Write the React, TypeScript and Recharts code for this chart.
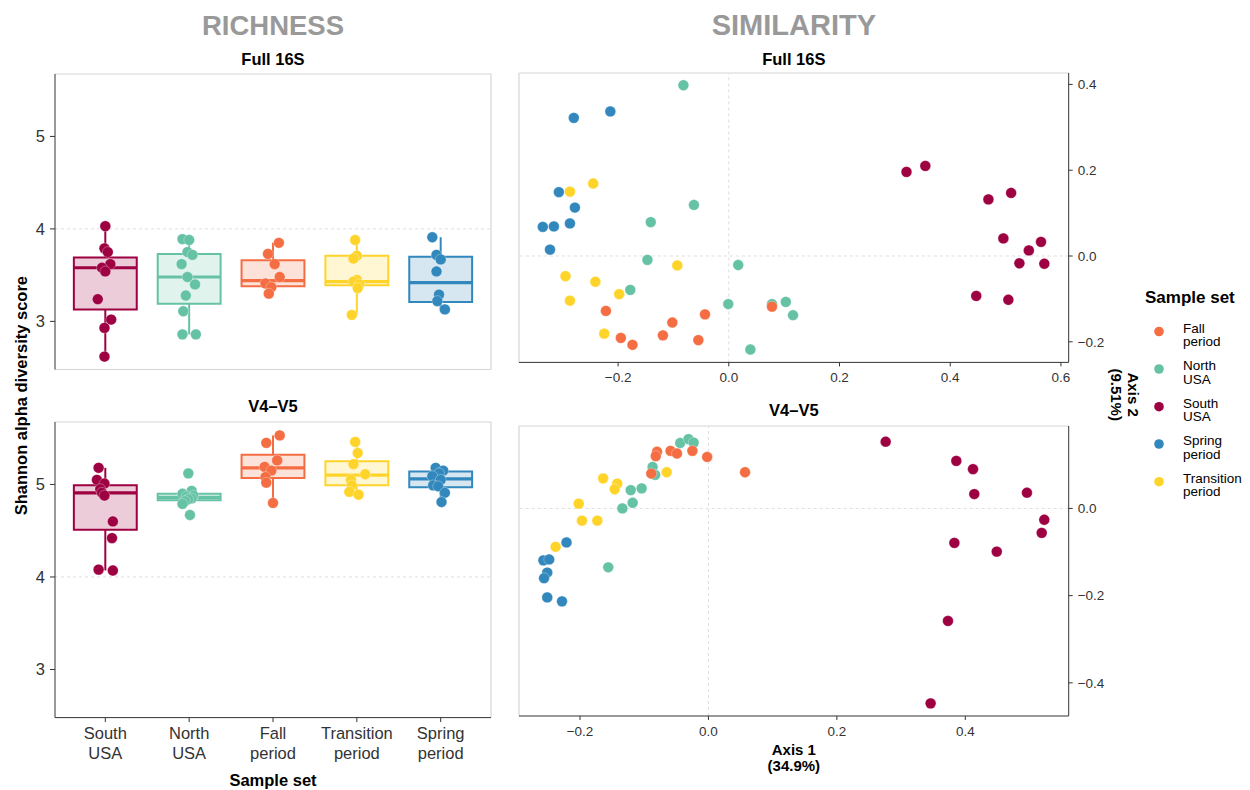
import React from 'react';
import { ScatterChart, Scatter, XAxis, YAxis, ReferenceArea, ReferenceLine } from 'recharts';

const FONT = "'Liberation Sans', Arial, Helvetica, sans-serif";

// ---- sample sets (boxplot order) ----
const categories = ['South USA', 'North USA', 'Fall period', 'Transition period', 'Spring period'];
const categoryLines = [
  ['South', 'USA'],
  ['North', 'USA'],
  ['Fall', 'period'],
  ['Transition', 'period'],
  ['Spring', 'period'],
];
const categoryColors = ['#9E0142', '#66C2A5', '#F46D43', '#FFD42A', '#3288BD'];

// ---- Shannon alpha diversity, Full 16S (one array per sample set) ----
const full16SShannon = [
  [4.03, 3.79, 3.75, 3.62, 3.58, 3.54, 3.24, 3.02, 2.93, 2.62],
  [3.89, 3.88, 3.75, 3.72, 3.62, 3.48, 3.4, 3.28, 3.11, 2.86, 2.86],
  [3.85, 3.73, 3.62, 3.48, 3.41, 3.37, 3.3],
  [3.88, 3.71, 3.68, 3.45, 3.43, 3.4, 3.36, 3.07],
  [3.91, 3.72, 3.67, 3.54, 3.29, 3.22, 3.13],
];
const full16SJitter = [
  [0, -0.01, 0.03, 0.06, -0.04, 0, -0.09, 0.07, -0.01, -0.01],
  [-0.08, 0, -0.02, 0.04, -0.09, -0.02, 0.07, -0.04, -0.07, -0.08, 0.08],
  [0.07, -0.06, 0.02, 0.08, -0.09, -0.02, -0.05],
  [-0.02, 0, -0.04, 0, -0.04, 0.03, 0.01, -0.06],
  [-0.1, -0.05, 0, -0.05, -0.02, -0.04, 0.05],
];
const full16SQ1 = [3.13, 3.19, 3.38, 3.39, 3.21];
const full16SMedian = [3.58, 3.48, 3.44, 3.43, 3.42];
const full16SQ3 = [3.69, 3.73, 3.66, 3.71, 3.7];
const full16SLower = [2.62, 2.86, 3.3, 3.07, 3.13];
const full16SUpper = [4.03, 3.89, 3.85, 3.88, 3.91];

// ---- Shannon alpha diversity, V4–V5 ----
const v4v5Shannon = [
  [5.18, 5.05, 5.01, 4.95, 4.91, 4.88, 4.6, 4.42, 4.08, 4.07],
  [5.12, 4.93, 4.9, 4.88, 4.87, 4.85, 4.84, 4.82, 4.79, 4.67],
  [5.53, 5.45, 5.26, 5.19, 5.15, 5.08, 5.02, 4.8],
  [5.46, 5.34, 5.22, 5.11, 5.05, 4.99, 4.92, 4.89],
  [5.18, 5.15, 5.12, 5.09, 5.05, 4.99, 4.98, 4.91, 4.81],
];
const v4v5Jitter = [
  [-0.08, -0.1, -0.01, -0.06, -0.04, -0.01, 0.09, 0.08, -0.08, 0.09],
  [-0.01, 0.03, -0.08, 0.05, -0.03, 0.03, -0.01, -0.05, -0.08, 0.01],
  [0.08, -0.08, 0.05, -0.1, -0.02, -0.09, -0.08, 0],
  [-0.02, 0.01, -0.04, 0.1, -0.07, -0.06, -0.09, 0.02],
  [-0.06, 0.03, -0.02, -0.1, 0, -0.09, -0.03, 0.05, 0.01],
];
const v4v5Q1 = [4.51, 4.83, 5.07, 4.99, 4.97];
const v4v5Median = [4.91, 4.86, 5.18, 5.1, 5.06];
const v4v5Q3 = [4.99, 4.9, 5.32, 5.25, 5.14];
const v4v5Lower = [4.07, 4.79, 4.8, 4.89, 4.81];
const v4v5Upper = [5.18, 4.93, 5.53, 5.46, 5.18];

// ---- PCoA ordination (Axis 1, Axis 2), legend order ----
const legendGroups = [
  { name: ['Fall', 'period'], color: '#F46D43' },
  { name: ['North', 'USA'], color: '#66C2A5' },
  { name: ['South', 'USA'], color: '#9E0142' },
  { name: ['Spring', 'period'], color: '#3288BD' },
  { name: ['Transition', 'period'], color: '#FFD42A' },
];

const full16SFall = [[-0.222, -0.128], [-0.043, -0.136], [-0.102, -0.155], [-0.119, -0.185], [-0.195, -0.191], [-0.174, -0.207], [-0.055, -0.196], [0.078, -0.118]];
const full16SNorth = [[-0.082, 0.398], [-0.063, 0.119], [-0.141, 0.079], [-0.147, -0.009], [0.017, -0.021], [-0.178, -0.079], [-0.001, -0.112], [0.078, -0.112], [0.103, -0.107], [0.116, -0.138], [0.039, -0.218]];
const full16SSouth = [[0.321, 0.196], [0.355, 0.21], [0.469, 0.132], [0.51, 0.147], [0.496, 0.041], [0.564, 0.033], [0.542, 0.013], [0.525, -0.017], [0.57, -0.018], [0.447, -0.093], [0.505, -0.102]];
const full16SSpring = [[-0.28, 0.322], [-0.214, 0.337], [-0.307, 0.149], [-0.278, 0.113], [-0.336, 0.068], [-0.316, 0.069], [-0.287, 0.076], [-0.323, 0.015]];
const full16STransition = [[-0.287, 0.15], [-0.245, 0.169], [-0.093, -0.022], [-0.295, -0.047], [-0.241, -0.06], [-0.198, -0.089], [-0.287, -0.104], [-0.225, -0.181]];

const v4v5Fall = [[-0.08, 0.13], [-0.082, 0.12], [-0.059, 0.132], [-0.049, 0.126], [-0.025, 0.132], [-0.002, 0.118], [0.057, 0.083], [-0.089, 0.08]];
const v4v5North = [[-0.044, 0.15], [-0.031, 0.159], [-0.023, 0.151], [-0.087, 0.095], [-0.083, 0.077], [-0.104, 0.046], [-0.121, 0.042], [-0.118, 0.013], [-0.134, 0.0], [-0.156, -0.135]];
const v4v5South = [[0.276, 0.153], [0.386, 0.109], [0.412, 0.09], [0.414, 0.033], [0.496, 0.036], [0.523, -0.026], [0.519, -0.056], [0.383, -0.079], [0.449, -0.099], [0.373, -0.258], [0.346, -0.447]];
const v4v5Spring = [[-0.221, -0.078], [-0.257, -0.119], [-0.248, -0.117], [-0.251, -0.147], [-0.256, -0.16], [-0.251, -0.204], [-0.228, -0.213]];
const v4v5Transition = [[-0.065, 0.083], [-0.164, 0.069], [-0.142, 0.057], [-0.146, 0.044], [-0.202, 0.011], [-0.197, -0.028], [-0.173, -0.028], [-0.238, -0.088]];

// axis ticks
const richnessTicks = [3, 4, 5];
const full16SAxis1Ticks = [-0.2, 0, 0.2, 0.4, 0.6];
const full16SAxis2Ticks = [-0.2, 0, 0.2, 0.4];
const v4v5Axis1Ticks = [-0.2, 0, 0.2, 0.4];
const v4v5Axis2Ticks = [-0.4, -0.2, 0];

// ---- layout ----
type Frame = { x: number; y: number; w: number; h: number };
const RICH_TOP: Frame = { x: 55, y: 74, w: 436, h: 295.5 };
const RICH_BOTTOM: Frame = { x: 55, y: 421.7, w: 436, h: 295.6 };
const SIM_TOP: Frame = { x: 519, y: 73.3, w: 549.7, h: 289.4 };
const SIM_BOTTOM: Frame = { x: 519, y: 426, w: 549.7, h: 290 };

const RICH_X_DOMAIN: [number, number] = [-0.6, 4.6];
const RICH_Y_DOMAIN: [number, number] = [2.48, 5.675];

const AXIS_COLOR = '#333333';
const BORDER = '#d6d6d6';
const GUIDE = '#dedede';
const TEXT = '#333333';
const POINT_R = 5.4;

const fmtAxis = (v: number) => (v < -1e-9 ? '\u2212' : '') + Math.abs(v).toFixed(1);

const dotShape = (color: string, r = POINT_R) => (p: any) => (
  <circle cx={p.cx} cy={p.cy} r={r} fill={color} stroke="#ffffff" strokeOpacity={0.5} strokeWidth={0.6} />
);

function CategoryTick(props: any) {
  const { x, y, payload } = props;
  const lines = categoryLines[Math.round(payload.value)] ?? [];
  return (
    <text x={x} y={y} textAnchor="middle" fill={TEXT} fontSize={16.5}>
      {lines.map((ln, i) => (
        <tspan key={i} x={x} dy={i === 0 ? '0.72em' : '1.17em'}>
          {ln}
        </tspan>
      ))}
    </text>
  );
}

type BoxStats = { q1: number[]; median: number[]; q3: number[]; lower: number[]; upper: number[] };

function RichnessPanel({
  frame,
  values,
  jitter,
  stats,
  showX,
}: {
  frame: Frame;
  values: number[][];
  jitter: number[][];
  stats: BoxStats;
  showX: boolean;
}) {
  const yW = 50;
  const xH = 60;
  const padL = 55;
  const padR = 9;
  const padT = 14;
  const padB = showX ? xH + 4 : 10;
  const half = 0.375;
  return (
    <div style={{ position: 'absolute', left: frame.x - padL, top: frame.y - padT }}>
      <ScatterChart
        width={frame.w + padL + padR}
        height={frame.h + padT + padB}
        margin={{ top: padT, right: padR, bottom: showX ? padB - xH : padB, left: padL - yW }}
      >
        <XAxis
          type="number"
          dataKey="x"
          domain={RICH_X_DOMAIN}
          ticks={[0, 1, 2, 3, 4]}
          interval={0}
          allowDataOverflow
          hide={!showX}
          height={xH}
          tickSize={4.5}
          tickMargin={5.5}
          tick={<CategoryTick />}
          axisLine={{ stroke: AXIS_COLOR, strokeWidth: 1 }}
          tickLine={{ stroke: AXIS_COLOR }}
        />
        <YAxis
          type="number"
          dataKey="y"
          domain={RICH_Y_DOMAIN}
          ticks={richnessTicks}
          interval={0}
          allowDataOverflow
          width={yW}
          tickSize={5}
          tickMargin={5}
          tick={{ fontSize: 16.5, fill: TEXT }}
          axisLine={{ stroke: AXIS_COLOR, strokeWidth: 1 }}
          tickLine={{ stroke: AXIS_COLOR }}
        />
        {/* panel border where no axis is drawn */}
        <ReferenceLine y={RICH_Y_DOMAIN[1]} stroke={BORDER} strokeWidth={1.2} />
        <ReferenceLine x={RICH_X_DOMAIN[1]} stroke={BORDER} strokeWidth={1.2} />
        {!showX && <ReferenceLine y={RICH_Y_DOMAIN[0]} stroke={BORDER} strokeWidth={1.2} />}
        <ReferenceLine y={4} stroke={GUIDE} strokeDasharray="3 3" />
        {categories.map((_, i) => (
          <ReferenceLine
            key={`wu${i}`}
            segment={[{ x: i, y: stats.q3[i] }, { x: i, y: stats.upper[i] }]}
            stroke={categoryColors[i]}
            strokeWidth={2}
          />
        ))}
        {categories.map((_, i) => (
          <ReferenceLine
            key={`wl${i}`}
            segment={[{ x: i, y: stats.q1[i] }, { x: i, y: stats.lower[i] }]}
            stroke={categoryColors[i]}
            strokeWidth={2}
          />
        ))}
        {categories.map((_, i) => (
          <ReferenceArea
            key={`box${i}`}
            x1={i - half}
            x2={i + half}
            y1={stats.q1[i]}
            y2={stats.q3[i]}
            fill={categoryColors[i]}
            fillOpacity={0.2}
            stroke={categoryColors[i]}
            strokeWidth={2}
            strokeOpacity={1}
          />
        ))}
        {categories.map((_, i) => (
          <ReferenceLine
            key={`med${i}`}
            segment={[{ x: i - half, y: stats.median[i] }, { x: i + half, y: stats.median[i] }]}
            stroke={categoryColors[i]}
            strokeWidth={3.2}
          />
        ))}
        {categories.map((name, i) => (
          <Scatter
            key={name}
            name={name}
            data={values[i].map((v, k) => ({ x: i + jitter[i][k], y: v }))}
            fill={categoryColors[i]}
            shape={dotShape(categoryColors[i])}
            isAnimationActive={false}
          />
        ))}
      </ScatterChart>
    </div>
  );
}

function SimilarityPanel({
  frame,
  series,
  xDomain,
  yDomain,
  xTicks,
  yTicks,
}: {
  frame: Frame;
  series: number[][][];
  xDomain: [number, number];
  yDomain: [number, number];
  xTicks: number[];
  yTicks: number[];
}) {
  const yW = 50;
  const xH = 30;
  const padL = 10;
  const padR = 56;
  const padT = 10;
  const padB = 34;
  // draw order: spring, transition, north, fall, south
  const order = [3, 4, 1, 0, 2];
  return (
    <div style={{ position: 'absolute', left: frame.x - padL, top: frame.y - padT }}>
      <ScatterChart
        width={frame.w + padL + padR}
        height={frame.h + padT + padB}
        margin={{ top: padT, right: padR - yW, bottom: padB - xH, left: padL }}
      >
        <XAxis
          type="number"
          dataKey="x"
          domain={xDomain}
          ticks={xTicks}
          interval={0}
          allowDataOverflow
          height={xH}
          tickSize={4}
          tickMargin={6}
          tickFormatter={fmtAxis}
          tick={{ fontSize: 13.5, fill: TEXT }}
          axisLine={{ stroke: AXIS_COLOR, strokeWidth: 1 }}
          tickLine={{ stroke: AXIS_COLOR }}
        />
        <YAxis
          type="number"
          dataKey="y"
          orientation="right"
          domain={yDomain}
          ticks={yTicks}
          interval={0}
          allowDataOverflow
          width={yW}
          tickSize={4}
          tickMargin={5}
          tickFormatter={fmtAxis}
          tick={{ fontSize: 13.5, fill: TEXT }}
          axisLine={{ stroke: AXIS_COLOR, strokeWidth: 1 }}
          tickLine={{ stroke: AXIS_COLOR }}
        />
        <ReferenceLine y={yDomain[1]} stroke={BORDER} strokeWidth={1.2} />
        <ReferenceLine x={xDomain[0]} stroke={BORDER} strokeWidth={1.2} />
        <ReferenceLine x={0} stroke={GUIDE} strokeDasharray="3 3" />
        <ReferenceLine y={0} stroke={GUIDE} strokeDasharray="3 3" />
        {order.map((g) => (
          <Scatter
            key={g}
            name={legendGroups[g].name.join(' ')}
            data={series[g].map(([x, y]) => ({ x, y }))}
            fill={legendGroups[g].color}
            shape={dotShape(legendGroups[g].color)}
            isAnimationActive={false}
          />
        ))}
      </ScatterChart>
    </div>
  );
}

const centerX = (f: Frame) => f.x + f.w / 2;
const centerY = (a: Frame, b: Frame) => (a.y + b.y + b.h) / 2;

export default function App() {
  const legendX = 1145;
  const legendDotX = 1159;
  const legendTextX = 1183;
  const legendRows = [331.5, 369, 406.7, 444, 481.7];
  const simYMid = centerY(SIM_TOP, SIM_BOTTOM);
  return (
    <div
      style={{
        position: 'absolute',
        left: 0,
        top: 0,
        width: 1250,
        height: 790,
        background: '#ffffff',
        fontFamily: FONT,
        overflow: 'hidden',
      }}
    >
      <RichnessPanel
        frame={RICH_TOP}
        values={full16SShannon}
        jitter={full16SJitter}
        stats={{ q1: full16SQ1, median: full16SMedian, q3: full16SQ3, lower: full16SLower, upper: full16SUpper }}
        showX={false}
      />
      <RichnessPanel
        frame={RICH_BOTTOM}
        values={v4v5Shannon}
        jitter={v4v5Jitter}
        stats={{ q1: v4v5Q1, median: v4v5Median, q3: v4v5Q3, lower: v4v5Lower, upper: v4v5Upper }}
        showX
      />
      <SimilarityPanel
        frame={SIM_TOP}
        series={[full16SFall, full16SNorth, full16SSouth, full16SSpring, full16STransition]}
        xDomain={[-0.379, 0.614]}
        yDomain={[-0.248, 0.4266]}
        xTicks={full16SAxis1Ticks}
        yTicks={full16SAxis2Ticks}
      />
      <SimilarityPanel
        frame={SIM_BOTTOM}
        series={[v4v5Fall, v4v5North, v4v5South, v4v5Spring, v4v5Transition]}
        xDomain={[-0.295, 0.561]}
        yDomain={[-0.476, 0.189]}
        xTicks={v4v5Axis1Ticks}
        yTicks={v4v5Axis2Ticks}
      />
      <svg
        width={1250}
        height={790}
        style={{ position: 'absolute', left: 0, top: 0, pointerEvents: 'none', fontFamily: FONT }}
      >
        {/* section headings */}
        <text x={centerX(RICH_TOP)} y={35} textAnchor="middle" fontSize={27.5} fontWeight="bold" fill="#999999">
          RICHNESS
        </text>
        <text x={centerX(SIM_TOP)} y={35} textAnchor="middle" fontSize={29} fontWeight="bold" fill="#999999">
          SIMILARITY
        </text>
        {/* facet strips */}
        <text x={centerX(RICH_TOP)} y={65} textAnchor="middle" fontSize={16.5} fontWeight="bold" fill="#000">
          Full 16S
        </text>
        <text x={centerX(SIM_TOP)} y={65} textAnchor="middle" fontSize={16.5} fontWeight="bold" fill="#000">
          Full 16S
        </text>
        <text x={centerX(RICH_BOTTOM)} y={412} textAnchor="middle" fontSize={16.5} fontWeight="bold" fill="#000">
          V4–V5
        </text>
        <text x={centerX(SIM_BOTTOM)} y={416} textAnchor="middle" fontSize={16.5} fontWeight="bold" fill="#000">
          V4–V5
        </text>
        {/* axis titles */}
        <text
          x={21}
          y={centerY(RICH_TOP, RICH_BOTTOM)}
          textAnchor="middle"
          dominantBaseline="central"
          fontSize={16.5}
          fontWeight="bold"
          fill="#000"
          transform={`rotate(-90 21 ${centerY(RICH_TOP, RICH_BOTTOM)})`}
        >
          Shannon alpha diversity score
        </text>
        <text x={centerX(RICH_BOTTOM)} y={786} textAnchor="middle" fontSize={16.5} fontWeight="bold" fill="#000">
          Sample set
        </text>
        <text x={centerX(SIM_BOTTOM)} y={755} textAnchor="middle" fontSize={15} fontWeight="bold" fill="#000">
          Axis 1
        </text>
        <text x={centerX(SIM_BOTTOM)} y={771} textAnchor="middle" fontSize={15} fontWeight="bold" fill="#000">
          (34.9%)
        </text>
        <g transform={`rotate(90 1124 ${simYMid})`}>
          <text x={1124} y={simYMid - 4} textAnchor="middle" fontSize={15} fontWeight="bold" fill="#000">
            Axis 2
          </text>
          <text x={1124} y={simYMid + 13} textAnchor="middle" fontSize={15} fontWeight="bold" fill="#000">
            (9.51%)
          </text>
        </g>
        {/* legend */}
        <text x={legendX} y={303} fontSize={17} fontWeight="bold" fill="#000">
          Sample set
        </text>
        {legendGroups.map((g, i) => (
          <g key={g.name.join(' ')}>
            <circle cx={legendDotX} cy={legendRows[i]} r={4.8} fill={g.color} />
            <text x={legendTextX} y={legendRows[i] + 1} fontSize={13.5} fill="#000">
              {g.name[0]}
            </text>
            <text x={legendTextX} y={legendRows[i] + 14.5} fontSize={13.5} fill="#000">
              {g.name[1]}
            </text>
          </g>
        ))}
      </svg>
    </div>
  );
}
